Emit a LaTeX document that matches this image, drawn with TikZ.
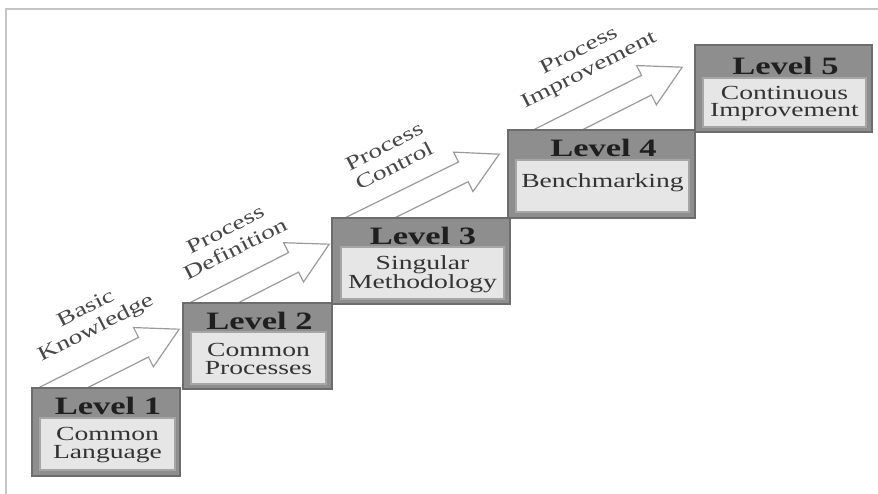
\documentclass[tikz,border=0pt]{standalone}
\usepackage{fontspec}
\setmainfont{Liberation Serif}[FakeStretch=1.38]
\usetikzlibrary{calc,fit,backgrounds}

\definecolor{hdrgray}{HTML}{8E8E8E}
\definecolor{rimgray}{HTML}{6C6C6C}
\definecolor{panelgray}{HTML}{E6E6E6}
\definecolor{panelrim}{HTML}{A6A6A6}
\definecolor{arrowgray}{HTML}{9A9A9A}
\definecolor{framegray}{HTML}{C4C4C4}

% hollow block arrow from tail point #1 (on a step top) to tip #2
\newcommand\stairarrow[2]{%
  \path ($(#2)!40pt!(#1)$) coordinate (nk) ($(#1)!-25pt!(#2)$) coordinate (tl);
  \draw[arrowline] ($(tl)!11pt!90:(#2)$) -- ($(nk)!11pt!90:(#2)$)
    -- ($(nk)!22pt!90:(#2)$) -- (#2) -- ($(nk)!22pt!-90:(#2)$)
    -- ($(nk)!11pt!-90:(#2)$) -- ($(tl)!11pt!-90:(#2)$) -- cycle;}

\begin{document}
\begin{tikzpicture}[x=1pt,y=-1pt,
  outerbox/.style={fill=hdrgray,draw=rimgray,line width=1.6pt,inner sep=0pt},
  panel/.style={fill=panelgray,draw=panelrim,line width=1.1pt,inner sep=0pt},
  headtext/.style={font=\fontsize{25}{26}\selectfont\bfseries,text=black!88,inner sep=0pt},
  bodytext/.style={font=\fontsize{20}{17.5}\selectfont,text=black!80,align=center,inner sep=0pt},
  steplabel/.style={font=\fontsize{20}{22}\selectfont,text=black!72,align=center,inner sep=0pt,rotate=27},
  arrowline/.style={draw=arrowgray,fill=white,line width=1.2pt,line join=miter}]

\useasboundingbox (0,0) rectangle (878,494);

% the five steps
\node[outerbox,fit={(32,388) (180,476)}] (l1) {};
\node[panel,fit={(40,418) (175,470)}] (p1) {};
\node[outerbox,fit={(183,303) (332,389)}] (l2) {};
\node[panel,fit={(191,332) (326,384)}] (p2) {};
\node[outerbox,fit={(332,218) (510,304)}] (l3) {};
\node[panel,fit={(341,247) (504,299)}] (p3) {};
\node[outerbox,fit={(508,130) (695,218)}] (l4) {};
\node[panel,fit={(516,160) (689,212)}] (p4) {};
\node[outerbox,fit={(695,45) (872,132)}] (l5) {};
\node[panel,fit={(703,78) (866,127)}] (p5) {};

% step titles
\node[headtext,anchor=base] (h1) at ($(l1.north)+(2,27)$) {Level 1};
\node[headtext,anchor=base] (h2) at ($(l2.north)+(2,27)$) {Level 2};
\node[headtext,anchor=base] (h3) at ($(l3.north)+(2,27)$) {Level 3};
\node[headtext,anchor=base] (h4) at ($(l4.north)+(2,27)$) {Level 4};
\node[headtext,anchor=base] (h5) at ($(l5.north)+(2,30)$) {Level 5};

% step contents
\node[bodytext] (b1) at ($(p1.center)+(0,1)$) {Common\\Language};
\node[bodytext] (b2) at ($(p2.center)+(0,1)$) {Common\\Processes};
\node[bodytext] (b3) at ($(p3.center)+(0,1)$) {Singular\\Methodology};
\node[bodytext] (b4) at ($(p4.center)+(0,-3)$) {Benchmarking};
\node[bodytext] (b5) at ($(p5.center)+(0,1)$) {Continuous\\Improvement};

% arrow ends
\coordinate (a1s) at ($(l1.north west)+(33,0)$);
\coordinate (a1e) at ($(l2.north west)+(-3,27)$);
\coordinate (a2s) at ($(l2.north west)+(33,0)$);
\coordinate (a2e) at ($(l3.north west)+(-2,27)$);
\coordinate (a3s) at ($(l3.north west)+(40,0)$);
\coordinate (a3e) at ($(l4.north west)+(-8,25)$);
\coordinate (a4s) at ($(l4.north west)+(52,0)$);
\coordinate (a4e) at ($(l5.north west)+(-12,23)$);

% arrow captions
\node[steplabel] (t1) at ($(a1s)+(27,-68)$) {Basic\\Knowledge};
\node[steplabel] (t2) at ($(a2s)+(15,-63)$) {Process\\Definition};
\node[steplabel] (t3) at ($(a3s)+(18,-61)$) {Process\\Control};
\node[steplabel] (t4) at ($(a4s)+(25,-68)$) {Process\\Improvement};

\begin{pgfonlayer}{background}
  \fill[white] (0,0) rectangle (878,494);
  \draw[framegray,line width=1.8pt] (6,494) -- (6,9) -- (878,9);
  \stairarrow{a1s}{a1e}
  \stairarrow{a2s}{a2e}
  \stairarrow{a3s}{a3e}
  \stairarrow{a4s}{a4e}
\end{pgfonlayer}
\end{tikzpicture}
\end{document}
